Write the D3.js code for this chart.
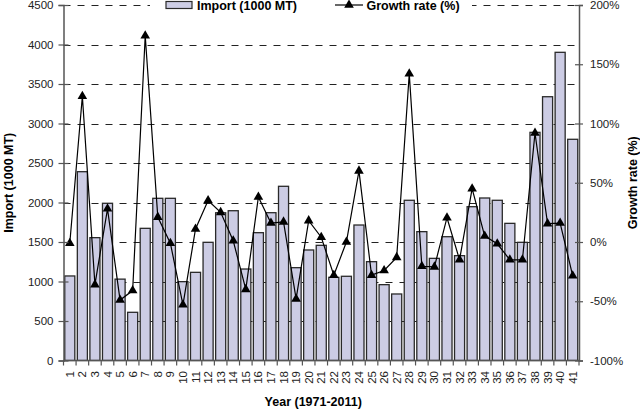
<!DOCTYPE html>
<html><head><meta charset="utf-8">
<script src="https://cdn.jsdelivr.net/npm/d3@7"></script>
<style>
html,body{margin:0;padding:0;background:#fff;}
text{font-family:"Liberation Sans",Arial,sans-serif;}
</style></head>
<body>
<svg id="c" width="640" height="409"></svg>
<script>
const years = d3.range(1, 42).map(String);
const importVals = [1070,2390,1555,1990,1030,610,1673,2053,2053,998,1116,1496,1870,1896,1158,1618,1871,2205,1175,1399,1458,1053,1066,1715,1251,960,842,2028,1631,1293,1567,1327,1947,2057,2028,1736,1496,2888,3339,3901,2800];
const growthVals = [-1,123,-36,28,-49,-41,174,21,-1,-53,11,35,25,1,-40,38,16,17,-48,18,4,-28,0,60,-28,-24,-13,142,-20.5,-21,20.5,-15,45,5,-1.5,-15,-15,92,15.5,16,-28.5];
const leftTicks = d3.range(0, 4501, 500);
const rightTicks = d3.range(-100, 201, 50);
const seriesNames = ["Import (1000 MT)", "Growth rate (%)"];
const axisTitles = {x: "Year (1971-2011)", yLeft: "Import (1000 MT)", yRight: "Growth rate (%)"};

const svg = d3.select("#c");
const L = 63.5, R = 579, T = 5, B = 360.5;
const x = d3.scaleBand().domain(years).range([L, R]).paddingInner(0.2).paddingOuter(0.1);
const yL = d3.scaleLinear().domain([0, 4500]).range([B, T]);
const yR = d3.scaleLinear().domain([-100, 200]).range([B, T]);

// gridlines
svg.append("g").selectAll("line").data(leftTicks.filter(d => d > 0)).join("line")
  .attr("x1", L).attr("x2", R)
  .attr("y1", d => Math.round(yL(d)) + 0.5).attr("y2", d => Math.round(yL(d)) + 0.5)
  .attr("stroke", "#222").attr("stroke-width", 1).attr("stroke-dasharray", "7,7");

// bars
svg.append("g").selectAll("rect").data(importVals).join("rect")
  .attr("x", (d, i) => x(years[i]))
  .attr("y", d => yL(d))
  .attr("width", x.bandwidth())
  .attr("height", d => B - yL(d))
  .attr("fill", "#ccccE4").attr("stroke", "#2a2a2a").attr("stroke-width", 1.3);

// line
const cx = i => x(years[i]) + x.bandwidth() / 2;
svg.append("path").datum(growthVals)
  .attr("d", d3.line().x((d, i) => cx(i)).y(d => yR(d)))
  .attr("fill", "none").attr("stroke", "#000").attr("stroke-width", 1.2);
const tri = d3.symbol().type(d3.symbolTriangle).size(40);
svg.append("g").selectAll("path").data(growthVals).join("path")
  .attr("d", tri)
  .attr("transform", (d, i) => `translate(${cx(i)},${yR(d)})`)
  .attr("fill", "#000");

// axes
const axisColor = "#555";
const gl = svg.append("g").attr("transform", `translate(${L},0)`)
  .call(d3.axisLeft(yL).tickValues(leftTicks).tickSize(5).tickPadding(5).tickFormat(d3.format("d")));
const gr = svg.append("g").attr("transform", `translate(${R},0)`)
  .call(d3.axisRight(yR).tickValues(rightTicks).tickSize(4).tickPadding(7).tickFormat(d => d + "%"));
[gl, gr].forEach(g => {
  g.select(".domain").attr("stroke", axisColor).attr("stroke-width", 1.5);
  g.selectAll(".tick line").attr("stroke", axisColor).attr("stroke-width", 1.2);
  g.selectAll("text").attr("font-size", "11.5px").attr("fill", "#222").attr("font-family", "Liberation Sans, Arial, sans-serif");
});
gl.selectAll(".tick line").attr("x1", 5);
gr.selectAll(".tick line").attr("x1", -4);

// x axis
svg.append("line").attr("x1", L).attr("x2", R).attr("y1", B).attr("y2", B)
  .attr("stroke", axisColor).attr("stroke-width", 1.5);
const step = (R - L) / years.length;
svg.append("g").selectAll("line").data(d3.range(0, years.length + 1)).join("line")
  .attr("x1", i => L + i * step).attr("x2", i => L + i * step)
  .attr("y1", B).attr("y2", B + 5)
  .attr("stroke", axisColor).attr("stroke-width", 1.2);
svg.append("g").selectAll("text").data(years).join("text")
  .attr("transform", d => `translate(${x(d) + x.bandwidth() / 2 + 4},${B + 10.5}) rotate(-90)`)
  .attr("text-anchor", "end")
  .attr("font-size", "11.5px").attr("fill", "#222")
  .text(d => d);

// axis titles
svg.append("text").attr("x", (L + R) / 2 - 8).attr("y", 406)
  .attr("text-anchor", "middle").attr("font-size", "12.5px").attr("font-weight", "bold").text(axisTitles.x);
svg.append("text").attr("transform", `translate(13,${(T + B) / 2}) rotate(-90)`)
  .attr("text-anchor", "middle").attr("font-size", "12.5px").attr("font-weight", "bold").text(axisTitles.yLeft);
svg.append("text").attr("transform", `translate(637,${(T + B) / 2}) rotate(-90)`)
  .attr("text-anchor", "middle").attr("font-size", "12.5px").attr("font-weight", "bold").text(axisTitles.yRight);

// legend
const lg = svg.append("g");
lg.append("rect").attr("x", 150).attr("y", 0).attr("width", 322).attr("height", 12).attr("fill", "#fff");
lg.append("rect").attr("x", 166).attr("y", 1.5).attr("width", 26).attr("height", 7)
  .attr("fill", "#ccccE4").attr("stroke", "#2a2a2a").attr("stroke-width", 1.2);
lg.append("text").attr("x", 197).attr("y", 10).attr("font-size", "12.5px").attr("font-weight", "bold").text(seriesNames[0]);
lg.append("line").attr("x1", 335).attr("x2", 363).attr("y1", 5).attr("y2", 5).attr("stroke", "#000").attr("stroke-width", 1.2);
lg.append("path").attr("d", tri).attr("transform", "translate(349,5)").attr("fill", "#000");
lg.append("text").attr("x", 366.5).attr("y", 10).attr("font-size", "12.5px").attr("font-weight", "bold").text(seriesNames[1]);
</script>
</body></html>
